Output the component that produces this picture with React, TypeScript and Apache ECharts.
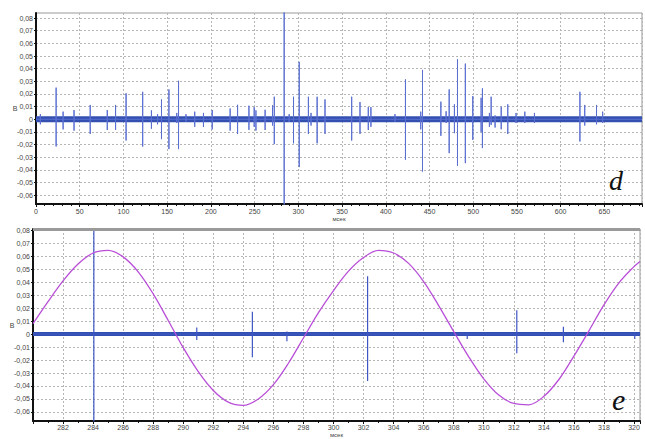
import React, { useEffect, useRef } from "react";
import * as echarts from "echarts";

// ---------- data ----------
const topXMin = 0;
const topXMax = 693;
const topYMin = -0.067;
const topYMax = 0.084;

const botXMin = 280;
const botXMax = 320.4;
const botYMin = -0.067;
const botYMax = 0.081;

const yTicks = [-0.06, -0.05, -0.04, -0.03, -0.02, -0.01, 0, 0.01, 0.02, 0.03, 0.04, 0.05, 0.06, 0.07, 0.08];

// top panel (d): spikes
const topSpikeX = [5, 23, 31, 43.5, 62, 81.5, 91, 103, 122, 132, 139, 143.5, 152, 161, 163, 171.5, 181.5, 191.5, 201.5, 222, 230.5, 243.5, 249.5, 251.5, 262, 270.5, 272.5, 283.8, 289.5, 294.5, 301, 311.5, 314.5, 321.5, 330.5, 361, 370.5, 380, 383, 410.5, 422.5, 440, 442, 463, 469, 472.5, 478.5, 482, 491, 499.5, 509, 510.5, 518.5, 520.5, 525, 532, 539.5, 549, 559, 570, 622, 627.5, 641, 648];
const topSpikeUp = [0.004, 0.025, 0.006, 0.0073, 0.0113, 0.0073, 0.0113, 0.0205, 0.0217, 0.007, 0.004, 0.0157, 0.0236, 0.005, 0.0304, 0.004, 0.006, 0.005, 0.0073, 0.0085, 0.0114, 0.0107, 0.0096, 0.007, 0.0075, 0.011, 0.0178, 0.12, 0.004, 0.0178, 0.0454, 0.0178, 0.005, 0.0178, 0.0157, 0.0178, 0.0136, 0.0096, 0.0096, 0.004, 0.0315, 0.006, 0.039, 0.0139, 0.0063, 0.0236, 0.0118, 0.0475, 0.044, 0.0183, 0.017, 0.0244, 0.005, 0.0178, 0.003, 0.0099, 0.0118, 0.005, 0.006, 0.005, 0.0217, 0.0113, 0.0113, 0.006];
const topSpikeDown = [-0.004, -0.0215, -0.008, -0.009, -0.0116, -0.0085, -0.0085, -0.0168, -0.0216, -0.0075, -0.004, -0.0157, -0.0236, -0.003, -0.0236, -0.002, -0.006, -0.006, -0.008, -0.009, -0.0116, -0.0084, -0.006, -0.009, -0.0085, -0.005, -0.0197, -0.12, -0.002, -0.019, -0.0378, -0.0116, -0.005, -0.019, -0.0116, -0.0168, -0.0116, -0.0085, -0.006, -0.002, -0.032, -0.008, -0.0413, -0.0131, -0.003, -0.0268, -0.011, -0.0368, -0.0347, -0.0163, -0.01, -0.0228, -0.006, -0.0045, -0.0065, -0.0079, -0.0116, -0.003, -0.003, -0.003, -0.0176, -0.005, -0.004, -0.003];

// bottom panel (e): spikes
const botSpikeX = [284.05, 290.9, 294.6, 296.9, 302.27, 308.9, 312.2, 315.3, 320.05];
const botSpikeUp = [0.12, 0.005, 0.0173, 0.002, 0.0445, 0.001, 0.0183, 0.0056, 0.001];
const botSpikeDown = [-0.12, -0.0046, -0.0178, -0.0056, -0.0361, -0.0038, -0.0148, -0.0063, -0.0038];

// bottom panel (e): sinusoid
const sineX = [280, 281, 282, 283, 284, 285, 286, 287, 288, 289, 290, 291, 292, 293, 294, 295, 296, 297, 298, 299, 300, 301, 302, 303, 304, 305, 306, 307, 308, 309, 310, 311, 312, 313, 314, 315, 316, 317, 318, 319, 320, 320.4];
const sineY = [0.008, 0.025, 0.041, 0.054, 0.0625, 0.0645, 0.0595, 0.048, 0.031, 0.0105, -0.0105, -0.029, -0.0435, -0.0525, -0.055, -0.05, -0.039, -0.0225, -0.003, 0.0165, 0.0335, 0.0485, 0.059, 0.0645, 0.0625, 0.0545, 0.0405, 0.022, 0.002, -0.0175, -0.0345, -0.047, -0.0535, -0.0545, -0.048, -0.035, -0.017, 0.0025, 0.0225, 0.0395, 0.052, 0.056];

// ---------- helpers ----------
function spikePoints(xs: number[], ups: number[], downs: number[], x0: number, x1: number) {
  const pts: number[][] = [[x0, 0]];
  xs.forEach((x, i) => {
    pts.push([x, 0], [x, ups[i]], [x, downs[i]], [x, 0]);
  });
  pts.push([x1, 0]);
  return pts;
}

const fmtY = (v: number) => (Math.abs(v) < 1e-9 ? "0" : v.toFixed(2).replace(".", ","));
const labelFont = { fontFamily: "Liberation Sans", fontSize: 7, color: "#444" };
const dotted = { show: true, lineStyle: { color: "#b5b5b5", type: [2, 2] as any, width: 1 } };

export default function App() {
  const ref = useRef<HTMLDivElement>(null);
  useEffect(() => {
    if (!ref.current) return;
    const chart = echarts.init(ref.current, undefined, { renderer: "svg" });

    const yAxisBase = (idx: number, min: number, max: number, gap: number) => ({
      gridIndex: idx,
      type: "value",
      min,
      max,
      name: "В",
      nameLocation: "middle",
      nameRotate: 0,
      nameGap: gap,
      nameMoveOverlap: false,
      nameTextStyle: { ...labelFont, fontSize: 7, align: "center" },
      axisLine: { show: true, lineStyle: { color: "#111", width: 2 } },
      axisTick: { show: true, length: 2, customValues: yTicks, lineStyle: { color: "#111" } },
      axisLabel: { ...labelFont, margin: 3, customValues: yTicks, formatter: fmtY },
      splitLine: dotted,
    });

    const xAxisBase = (idx: number, min: number, max: number, interval: number, minorSplit: number, fmt: (v: number) => string) => ({
      gridIndex: idx,
      type: "value",
      min,
      max,
      interval,
      name: "мсек",
      nameLocation: "middle",
      nameGap: idx === 0 ? 12 : 11,
      nameMoveOverlap: false,
      nameTextStyle: { ...labelFont, fontSize: 6 },
      axisLine: { show: true, onZero: false, lineStyle: { color: "#111", width: 2 } },
      axisTick: { show: true, length: 3, lineStyle: { color: "#111" } },
      minorTick: { show: true, splitNumber: minorSplit, length: 2, lineStyle: { color: "#111" } },
      axisLabel: { ...labelFont, margin: idx === 0 ? 4 : 3, formatter: fmt },
      splitLine: dotted,
    });

    const option: any = {
      animation: false,
      backgroundColor: "#fff",
      grid: [
        { left: 36, right: 3, top: 13, height: 191, show: true, borderColor: "#999", borderWidth: 1 },
        { left: 33, right: 5, top: 229, height: 194, show: true, borderColor: "#999", borderWidth: 1 },
      ],
      xAxis: [
        xAxisBase(0, topXMin, topXMax, 50, 5, (v: number) => (v % 50 === 0 ? String(v) : "")),
        xAxisBase(1, botXMin, botXMax, 2, 2, (v: number) =>
          v > 280.5 && Math.abs(v - Math.round(v)) < 1e-6 && Math.round(v) % 2 === 0 ? String(Math.round(v)) : ""
        ),
      ],
      yAxis: [yAxisBase(0, topYMin, topYMax, 21), yAxisBase(1, botYMin, botYMax, 21)],
      series: [
        {
          type: "line",
          xAxisIndex: 0,
          yAxisIndex: 0,
          data: [[topXMin, 0], [topXMax, 0]],
          showSymbol: false,
          lineStyle: { color: "#3350b0", width: 6 },
          z: 2,
          silent: true,
        },
        {
          type: "line",
          xAxisIndex: 0,
          yAxisIndex: 0,
          data: spikePoints(topSpikeX, topSpikeUp, topSpikeDown, topXMin, topXMax),
          showSymbol: false,
          lineStyle: { color: "#5a6fd0", width: 1 },
          z: 3,
          silent: true,
        },
        {
          type: "line",
          xAxisIndex: 1,
          yAxisIndex: 1,
          data: [[botXMin, 0], [botXMax, 0]],
          showSymbol: false,
          lineStyle: { color: "#3350b0", width: 4 },
          z: 2,
          silent: true,
        },
        {
          type: "line",
          xAxisIndex: 1,
          yAxisIndex: 1,
          data: spikePoints(botSpikeX, botSpikeUp, botSpikeDown, botXMin, botXMax),
          showSymbol: false,
          lineStyle: { color: "#3e56c4", width: 1.2 },
          z: 3,
          silent: true,
        },
        {
          type: "line",
          xAxisIndex: 1,
          yAxisIndex: 1,
          data: sineX.map((x, i) => [x, sineY[i]]),
          smooth: 0.35,
          showSymbol: false,
          lineStyle: { color: "#b94fd8", width: 1.3 },
          z: 4,
          silent: true,
        },
      ],
      graphic: [
        { type: "rect", left: 33, top: 228, shape: { width: 607, height: 3 }, style: { fill: "#9a9a9a" }, z: 10 },
        { type: "text", left: 609, top: 166, style: { text: "d", font: 'italic 28px "Liberation Serif"', fill: "#111" }, z: 10 },
        { type: "text", left: 612, top: 384, style: { text: "e", font: 'italic 30px "Liberation Serif"', fill: "#111" }, z: 10 },
      ],
    };
    chart.setOption(option);
    return () => chart.dispose();
  }, []);
  return <div ref={ref} style={{ position: "fixed", left: 0, top: 0, width: 645, height: 439 }} />;
}
